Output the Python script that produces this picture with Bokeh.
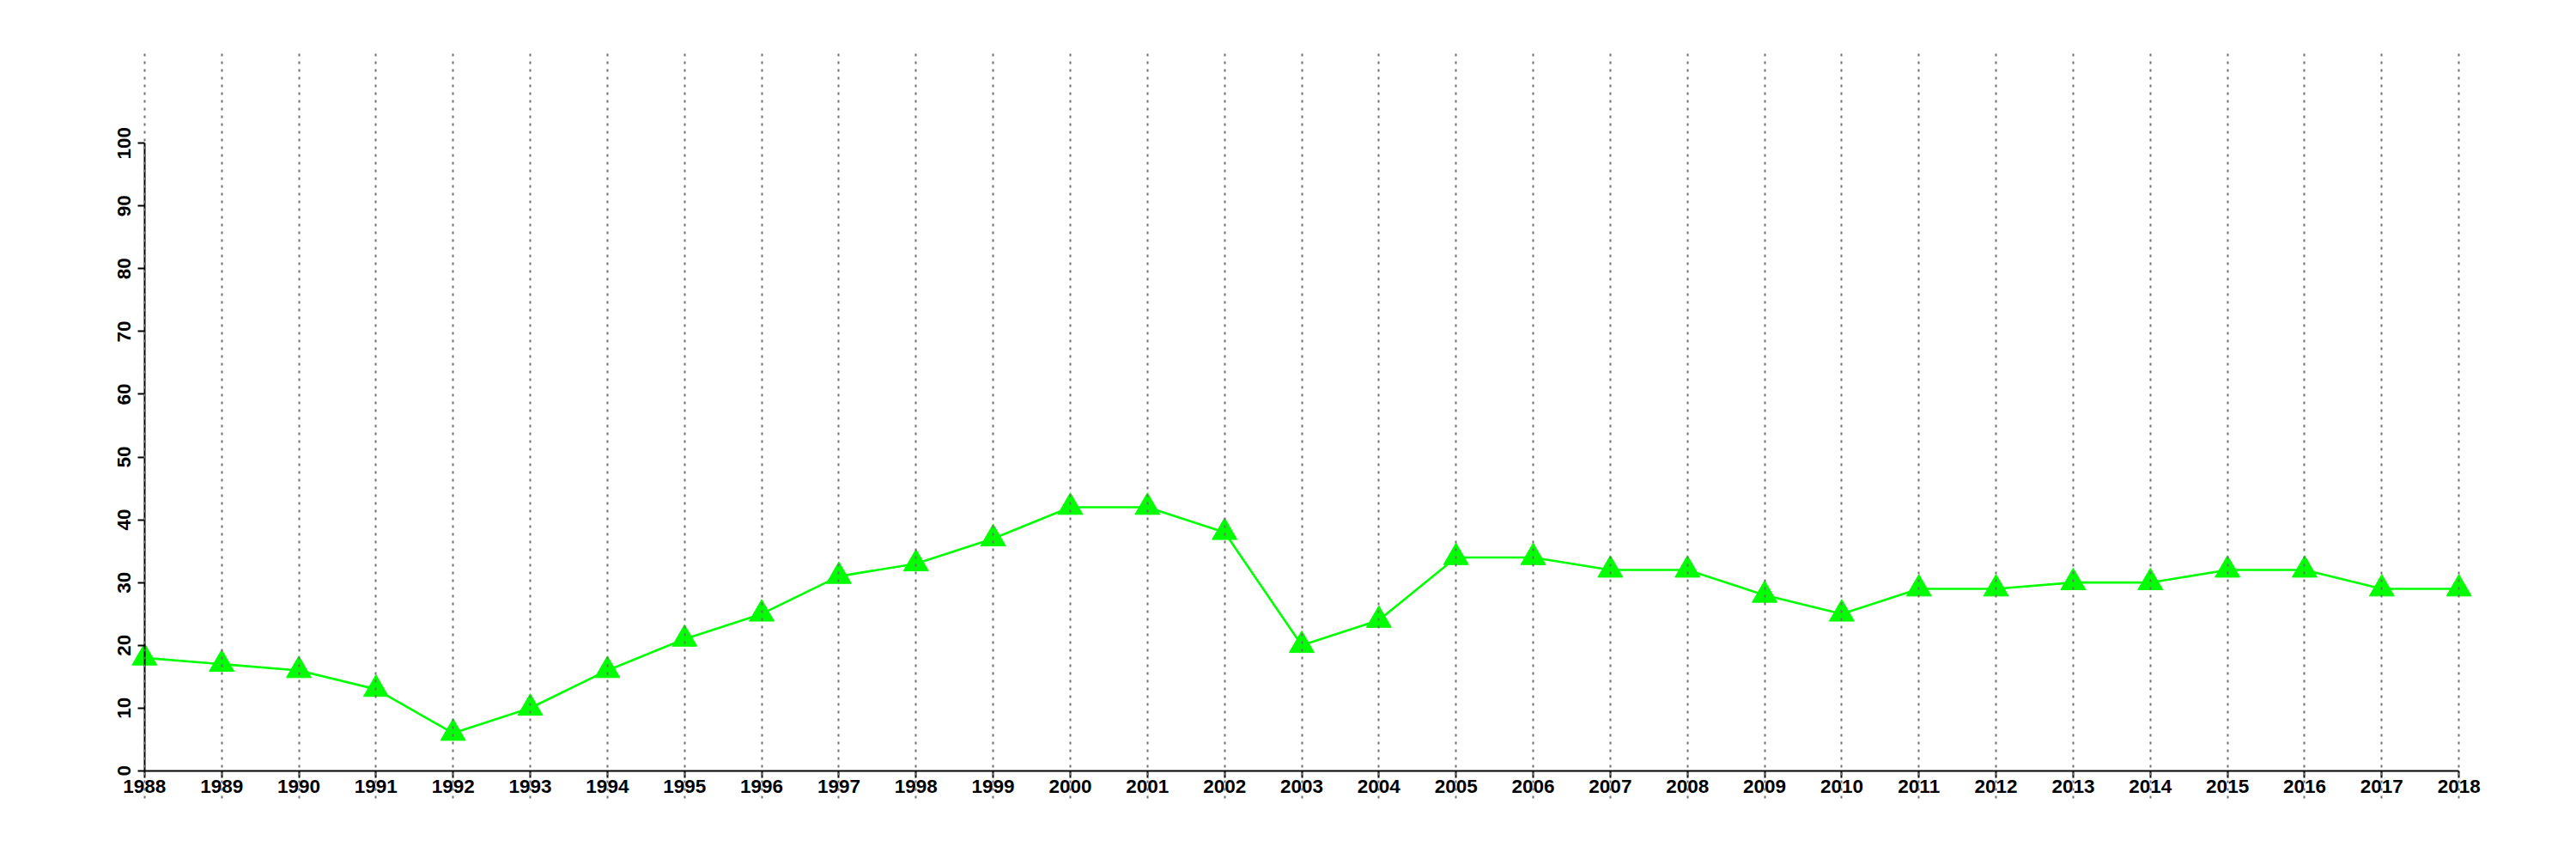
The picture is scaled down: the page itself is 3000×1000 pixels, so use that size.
from bokeh.plotting import figure
from bokeh.models import FixedTicker, Range1d, ColumnDataSource
from bokeh.embed import file_html
from bokeh.resources import INLINE

years = list(range(1988, 2019))
values = [18, 17, 16, 13, 6, 10, 16, 21, 25, 31, 33, 37, 42, 42, 38,
          20, 24, 34, 34, 32, 32, 28, 25, 29, 29, 30, 30, 32, 32, 29, 29]
y_ticks = [0, 10, 20, 30, 40, 50, 60, 70, 80, 90, 100]

src = ColumnDataSource(data=dict(x=years, y=values))

p = figure(width=2984, height=984, output_backend="svg", toolbar_location=None,
           x_range=Range1d(1986.8, 2019.2), y_range=Range1d(-4.4, 114.4),
           min_border_left=60, min_border_right=13, min_border_top=61, min_border_bottom=55)
p.outline_line_color = None
p.background_fill_color = "white"
p.border_fill_color = "white"

p.line("x", "y", source=src, line_color="#00ff00", line_width=2.6)
p.scatter("x", "y", source=src, marker="triangle", size=29,
          fill_color="#00ff00", line_color="#00ff00", line_width=1)

for ax in (p.xaxis[0], p.yaxis[0]):
    ax.axis_line_color = "black"
    ax.axis_line_width = 2
    ax.major_tick_line_color = "black"
    ax.major_tick_line_width = 2
    ax.major_tick_out = 8
    ax.major_tick_in = 0
    ax.minor_tick_line_color = None
    ax.major_label_text_font = "Liberation Sans"
    ax.major_label_text_font_style = "bold"
    ax.major_label_text_font_size = "22.5px"
    ax.major_label_text_color = "black"

p.xaxis[0].ticker = FixedTicker(ticks=years)
p.xaxis[0].bounds = (years[0], years[-1])
p.xaxis[0].fixed_location = 0
p.xaxis[0].major_label_standoff = 3

p.yaxis[0].ticker = FixedTicker(ticks=y_ticks)
p.yaxis[0].bounds = (0, 100)
p.yaxis[0].fixed_location = years[0]
p.yaxis[0].major_label_orientation = "parallel"
p.yaxis[0].major_label_standoff = 8

p.ygrid.grid_line_color = None
p.xgrid.grid_line_color = "#707070"
p.xgrid.grid_line_width = 2
p.xgrid.grid_line_dash = "3 6"
p.xgrid.level = "overlay"

open("out.html", "w").write(file_html(p, INLINE))
